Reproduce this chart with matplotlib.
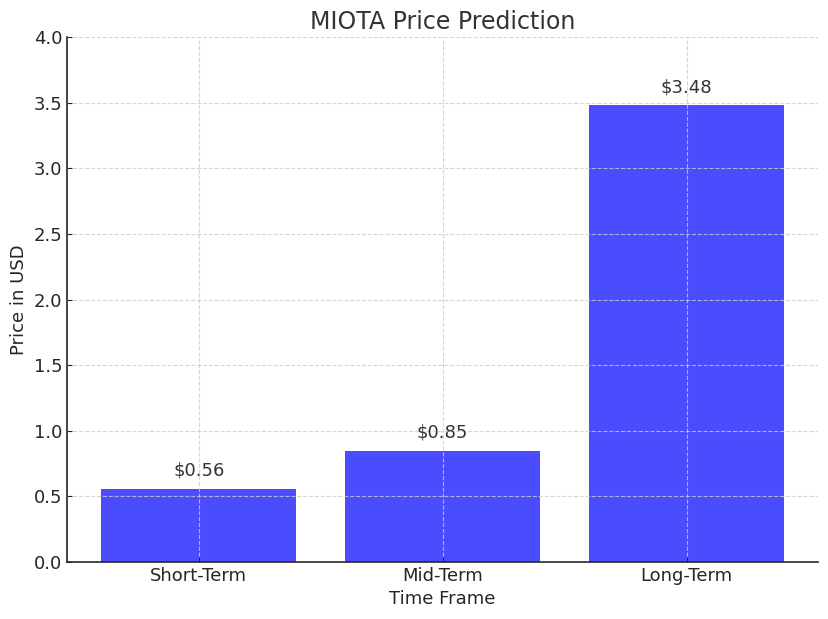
import matplotlib.pyplot as plt

# MIOTA price prediction values (USD)
time_frames = ["Short-Term", "Mid-Term", "Long-Term"]
prices = [0.56, 0.85, 3.48]
price_labels = ["$0.56", "$0.85", "$3.48"]

text_color = "#262626"

fig, ax = plt.subplots(figsize=(8.29, 6.19), dpi=100)
fig.subplots_adjust(left=0.081, right=0.987, top=0.94, bottom=0.092)

bars = ax.bar(time_frames, prices, color="blue", alpha=0.7, zorder=1)

for b, lbl in zip(bars, price_labels):
    ax.text(b.get_x() + b.get_width() / 2, b.get_height() + 0.07, lbl,
            ha="center", va="bottom", fontsize=13, color="#333333")

ax.set_ylim(0, 4.0)
ax.set_title("MIOTA Price Prediction", fontsize=17, color="#333333")
ax.set_xlabel("Time Frame", fontsize=13, color=text_color)
ax.set_ylabel("Price in USD", fontsize=13, color=text_color)
ax.tick_params(labelsize=13, colors=text_color, direction="in")

ax.set_axisbelow(False)
ax.grid(True, linestyle="--", color="#cccccc", linewidth=0.8, alpha=0.8)

for s in ("top", "right"):
    ax.spines[s].set_visible(False)
for s in ("left", "bottom"):
    ax.spines[s].set_color(text_color)
    ax.spines[s].set_linewidth(1.2)

plt.savefig("out.png")
